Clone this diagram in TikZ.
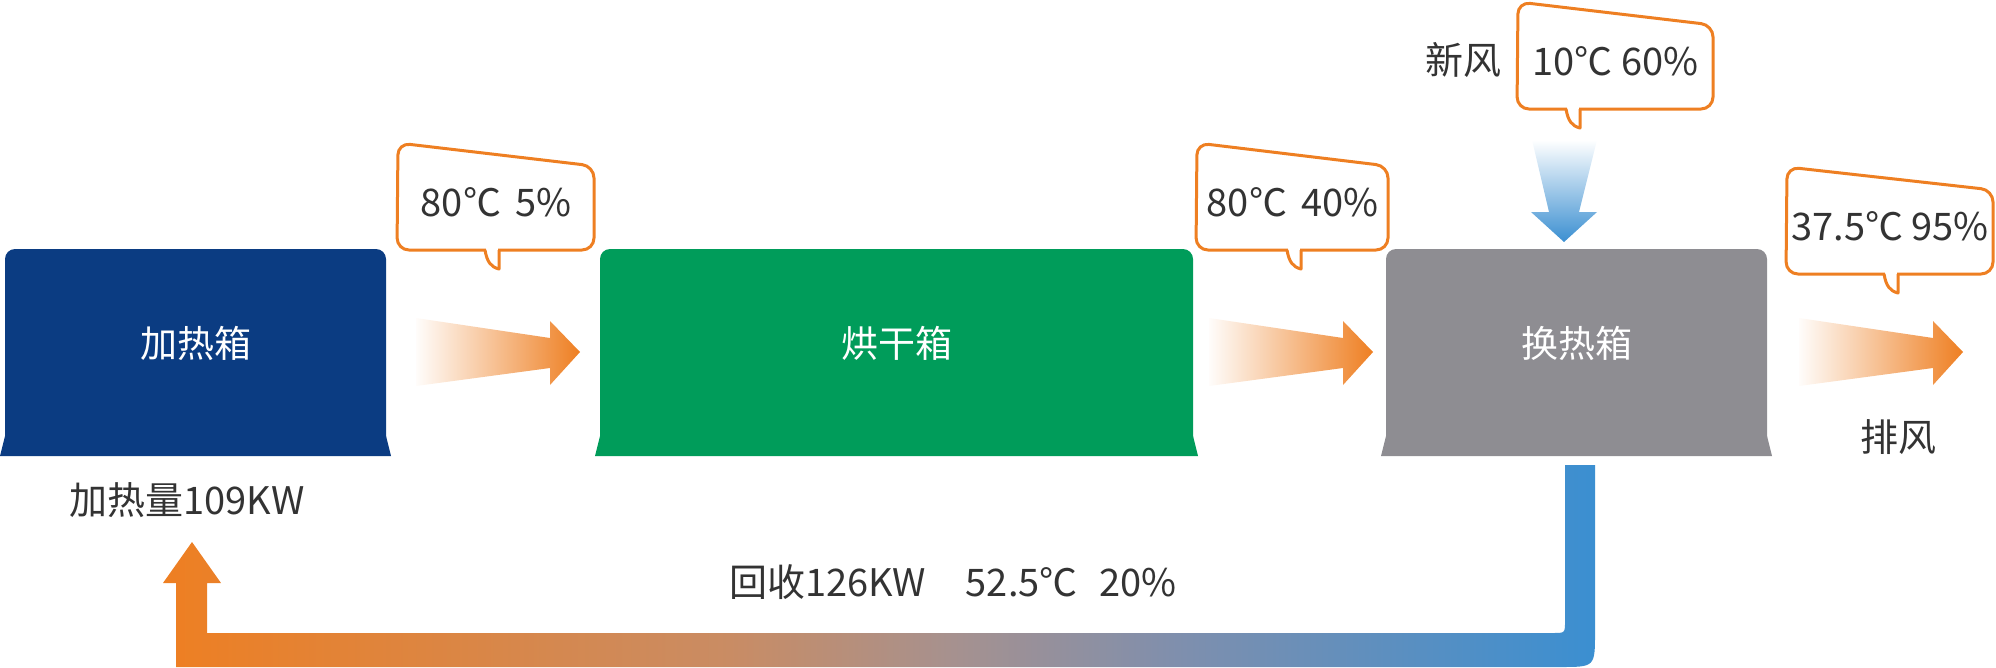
\documentclass[tikz,border=0pt]{standalone}
\usepackage{fontspec}
\usepackage{xcolor}
\usepackage{tikz}
\newfontfamily\cjk{Noto Sans CJK SC}

\definecolor{tankblue}{HTML}{0B3C82}
\definecolor{tankgreen}{HTML}{009C5A}
\definecolor{tankgrey}{HTML}{8E8D92}
\definecolor{hotorange}{HTML}{EE7F22}
\definecolor{coolblue}{HTML}{3B8FD1}
\definecolor{txtgrey}{HTML}{333333}
\definecolor{flowa}{HTML}{C98C64}
\definecolor{flowb}{HTML}{A6918F}
\definecolor{flowc}{HTML}{7F8FAD}

\pgfdeclarehorizontalshading{returnflow}{100bp}{color(0bp)=(hotorange); color(25bp)=(hotorange); color(44.8bp)=(flowa); color(52.6bp)=(flowb); color(60.4bp)=(flowc); color(75bp)=(coolblue); color(100bp)=(coolblue)}

\tikzset{
  tanklabel/.style={text=white, font=\cjk\fontsize{37}{40}\selectfont},
  infotext/.style={text=txtgrey, font=\cjk\fontsize{38}{40}\selectfont},
  callout/.style={draw=hotorange, line width=3pt, fill=white, rounded corners=12pt},
}

\newcommand{\tankbox}[5]{%
  \fill[#3, rounded corners=10pt] (#1,249) rectangle (#2,448);
  \fill[#3] (#1-5,456) .. controls (#1-2,446) .. (#1,436) -- (#2,436) .. controls (#2+2,446) .. (#2+5,456) -- cycle;
  \node[tanklabel] (#4) at ({(#1+#2)/2},343) {#5};
}

\newcommand{\bubble}[6]{%
  \draw[callout] (#2,#4) -- (#3,#4+23) -- (#3,#4+107) -- (#2-1,#4+107) -- cycle;
  \fill[white] (#5-13,#4+104) rectangle (#5-1.5,#4+110);
  \draw[hotorange, line width=3pt, line join=round, fill=white] (#5-14,#4+107) .. controls (#5-12,#4+119) and (#5-8,#4+124) .. (#5,#4+126) -- (#5,#4+107);
  \node[infotext] (#1) at ({(#2+#3)/2},#4+59) {#6};
}

\begin{document}
\begin{tikzpicture}[x=1pt,y=-1pt]
\useasboundingbox (0,0) rectangle (1996,667);

\tankbox{5}{386}{tankblue}{heater}{加热箱}
\tankbox{600}{1193}{tankgreen}{dryer}{烘干箱}
\tankbox{1386}{1767}{tankgrey}{exchanger}{换热箱}

\foreach \x in {416,1209,1799} {
  \shade[left color=hotorange!2, right color=hotorange] (\x,318) -- (\x+134,338) -- (\x+134,321) -- (\x+164,352) -- (\x+134,385) -- (\x+134,368) -- (\x,386) -- cycle;
}

\bubble{hot}{398}{594}{143}{499}{80℃\hspace{14pt}5\%}
\bubble{wet}{1197}{1388}{143}{1301}{80℃\hspace{14pt}40\%}
\bubble{fresh}{1518}{1713}{2}{1580}{10℃ 60\%}
\bubble{exhaust}{1787}{1993}{167}{1898}{37.5℃ 95\%}

\shade[top color=white, bottom color=coolblue] (1532,140) -- (1597,140) -- (1579,212) -- (1597,212) -- (1564,242) -- (1531,212) -- (1549,212) -- cycle;

\shade[shading=returnflow] (1565,465) -- (1565,621) .. controls (1565,633) .. (1553,633) -- (207,633) -- (207,583) -- (221,583) -- (192,542) -- (163,583) -- (176,583) -- (176,667) -- (1560,667) .. controls (1595,667) .. (1595,632) -- (1595,465) -- cycle;

\node[infotext] (freshair) at (1463,60) {新风};
\node[infotext] (exhaustair) at (1898,437) {排风};
\node[infotext] (heatload) at (187,500) {加热量109KW};
\node[infotext] (recovery) at (953,582) {回收126KW\hspace{40pt}52.5℃\hspace{22pt}20\%};

\end{tikzpicture}
\end{document}
